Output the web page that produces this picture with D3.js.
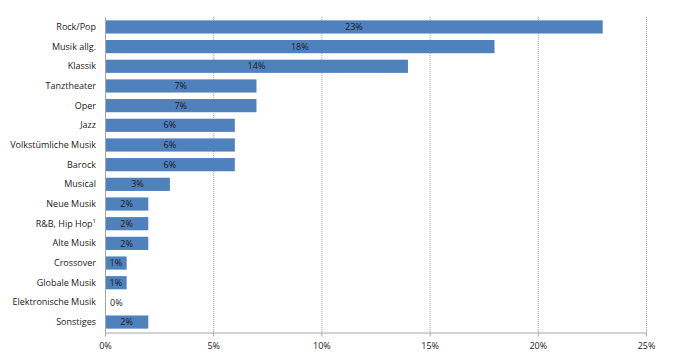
<!DOCTYPE html>
<html><head><meta charset="utf-8">
<script src="https://cdn.jsdelivr.net/npm/d3@7"></script>
<style>body{margin:0;background:#fff;} svg{display:block;}</style>
</head><body>
<svg id="c" width="675" height="359"></svg>
<script>
const categories = ["Rock/Pop","Musik allg.","Klassik","Tanztheater","Oper","Jazz","Volkstümliche Musik","Barock","Musical","Neue Musik","R&B, Hip Hop","Alte Musik","Crossover","Globale Musik","Elektronische Musik","Sonstiges"];
const values = [23,18,14,7,7,6,6,6,3,2,2,2,1,1,0,2];
const tickValues = [0,5,10,15,20,25];
const footnotes = {"R&B, Hip Hop":"1"};

const svg = d3.select("#c");
const m = {l:105, r:29, t:17, b:27};
const W = 675, H = 359;
const x = d3.scaleLinear().domain([0,25]).range([m.l, W-m.r]);
const y = d3.scaleBand().domain(categories).range([m.t, H-m.b]).paddingInner(0.33).paddingOuter(0.17);
const font = "'Open Sans', sans-serif";

// gridlines
svg.append("g").selectAll("line").data(tickValues.slice(1)).join("line")
  .attr("x1", d=>x(d)+0.5).attr("x2", d=>x(d)+0.5)
  .attr("y1", m.t).attr("y2", H-m.b)
  .attr("stroke", "#a6a6a6").attr("stroke-width",1).attr("stroke-dasharray","1,1");

// bars
svg.append("g").selectAll("rect").data(categories).join("rect")
  .attr("x", x(0)).attr("y", d=>y(d))
  .attr("width", (d,i)=>x(values[i])-x(0)).attr("height", y.bandwidth())
  .attr("fill", "#4f81bd");

// value labels
svg.append("g").selectAll("text").data(categories).join("text")
  .attr("x", (d,i)=> values[i]===0 ? x(0)+5 : (x(0)+x(values[i]))/2)
  .attr("y", d=>y(d)+y.bandwidth()/2)
  .attr("dy","0.35em")
  .attr("text-anchor", (d,i)=> values[i]===0 ? "start" : "middle")
  .attr("font-family", font).attr("font-size", 9).attr("fill", "#1a1a1a")
  .text((d,i)=> values[i]+"%");

// category axis
const yAxis = svg.append("g").attr("transform", `translate(${m.l},0)`)
  .call(d3.axisLeft(y).tickSize(0).tickPadding(9));
yAxis.select(".domain").attr("stroke","#a6a6a6").attr("d", `M0.5,${m.t}V${H-m.b}`);
yAxis.selectAll("text").attr("font-family", font).attr("font-size", 9).attr("fill","#1a1a1a")
  .each(function(d){
    const fn = footnotes[d];
    if (fn) {
      const t = d3.select(this);
      t.append("tspan").attr("font-size", 6).attr("dy","-0.6em").text(fn);
    }
  });

// value axis
const xAxis = svg.append("g").attr("transform", `translate(0,${H-m.b+0.5})`)
  .call(d3.axisBottom(x).tickValues(tickValues).tickFormat(d=>d+"%").tickSize(4).tickSizeOuter(0).tickPadding(6));
xAxis.select(".domain").attr("stroke","#a6a6a6");
xAxis.selectAll(".tick line").attr("stroke","#a6a6a6");
xAxis.selectAll("text").attr("font-family", font).attr("font-size", 9).attr("fill","#1a1a1a");
</script>
</body></html>
